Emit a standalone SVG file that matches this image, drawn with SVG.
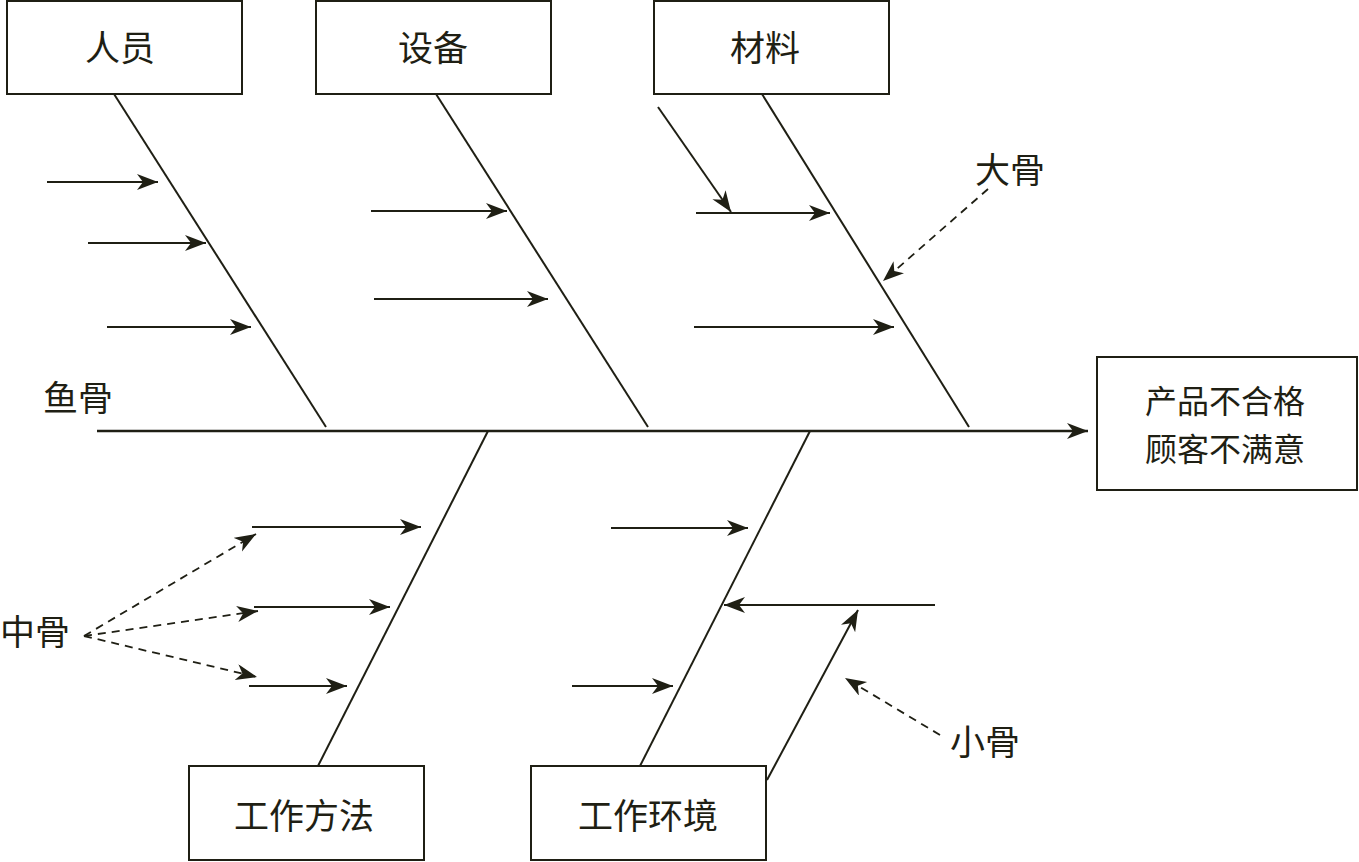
<svg xmlns="http://www.w3.org/2000/svg" width="1359" height="862" viewBox="0 0 1359 862">
<style>
.box{fill:#fff;stroke:#1f1f14;stroke-width:2}
.t{font-family:"Noto Sans CJK SC","Noto Sans",sans-serif;font-size:35px;fill:#1f1f14;text-anchor:middle}
.bone{stroke:#1f1f14;stroke-width:2;fill:none}
.arr{stroke:#1f1f14;stroke-width:2;fill:none;marker-end:url(#ah)}
.dash{stroke:#1f1f14;stroke-width:1.8;fill:none;stroke-dasharray:8,6;marker-end:url(#ah)}
</style>
<defs>
<marker id="ah" markerUnits="userSpaceOnUse" markerWidth="24" markerHeight="18" refX="21" refY="8" orient="auto">
<path d="M0,0 L21,8 L0,16 L6,8 z" fill="#1f1f14"/>
</marker>
</defs>
<rect width="1359" height="862" fill="#fff"/>
<g id="connectors">
<line class="arr" x1="97" y1="431" x2="1088" y2="431" style="stroke-width:2.5"/>
<line class="bone" x1="114" y1="94" x2="326" y2="427"/>
<line class="bone" x1="436" y1="94" x2="648" y2="427"/>
<line class="bone" x1="762" y1="94" x2="969" y2="427"/>
<line class="bone" x1="488" y1="431" x2="318" y2="766"/>
<line class="bone" x1="810" y1="431" x2="640" y2="766"/>
<line class="arr" x1="47" y1="182" x2="158" y2="182"/>
<line class="arr" x1="88" y1="243" x2="206" y2="243"/>
<line class="arr" x1="107" y1="327" x2="251" y2="327"/>
<line class="arr" x1="371" y1="211" x2="507" y2="211"/>
<line class="arr" x1="374" y1="299" x2="548" y2="299"/>
<line class="arr" x1="696" y1="213" x2="830" y2="213"/>
<line class="arr" x1="694" y1="327" x2="894" y2="327"/>
<line class="arr" x1="658" y1="107" x2="731" y2="212"/>
<line class="dash" x1="988" y1="189" x2="883" y2="281"/>
<line class="arr" x1="252" y1="527" x2="421" y2="527"/>
<line class="arr" x1="254" y1="607" x2="390" y2="607"/>
<line class="arr" x1="249" y1="686" x2="347" y2="686"/>
<line class="dash" x1="84" y1="636" x2="256" y2="534"/>
<line class="dash" x1="84" y1="636" x2="258" y2="611"/>
<line class="dash" x1="84" y1="636" x2="257" y2="677"/>
<line class="arr" x1="611" y1="528" x2="748" y2="528"/>
<line class="arr" x1="935" y1="605" x2="724" y2="605"/>
<line class="arr" x1="572" y1="686" x2="673" y2="686"/>
<line class="arr" x1="767" y1="780" x2="858" y2="610"/>
<line class="dash" x1="940" y1="735" x2="845" y2="678"/>
</g>
<g id="renyuan"><rect class="box" x="7" y="1" width="235" height="93"/><text class="t" x="120" y="61">人员</text></g>
<g id="shebei"><rect class="box" x="316" y="1" width="235" height="93"/><text class="t" x="433" y="61">设备</text></g>
<g id="cailiao"><rect class="box" x="654" y="1" width="235" height="93"/><text class="t" x="765" y="61">材料</text></g>
<g id="result"><rect class="box" x="1097" y="357" width="260" height="133"/><text class="t" x="1225" y="413" style="font-size:32px">产品不合格</text><text class="t" x="1225" y="461" style="font-size:32px">顾客不满意</text></g>
<g id="fangfa"><rect class="box" x="189" y="766" width="235" height="94"/><text class="t" x="304" y="829">工作方法</text></g>
<g id="huanjing"><rect class="box" x="531" y="766" width="235" height="94"/><text class="t" x="648" y="829">工作环境</text></g>
<g id="labels">
<text class="t" x="78" y="411">鱼骨</text>
<text class="t" x="1010" y="183">大骨</text>
<text class="t" x="35" y="645">中骨</text>
<text class="t" x="985" y="755">小骨</text>
</g>
</svg>
